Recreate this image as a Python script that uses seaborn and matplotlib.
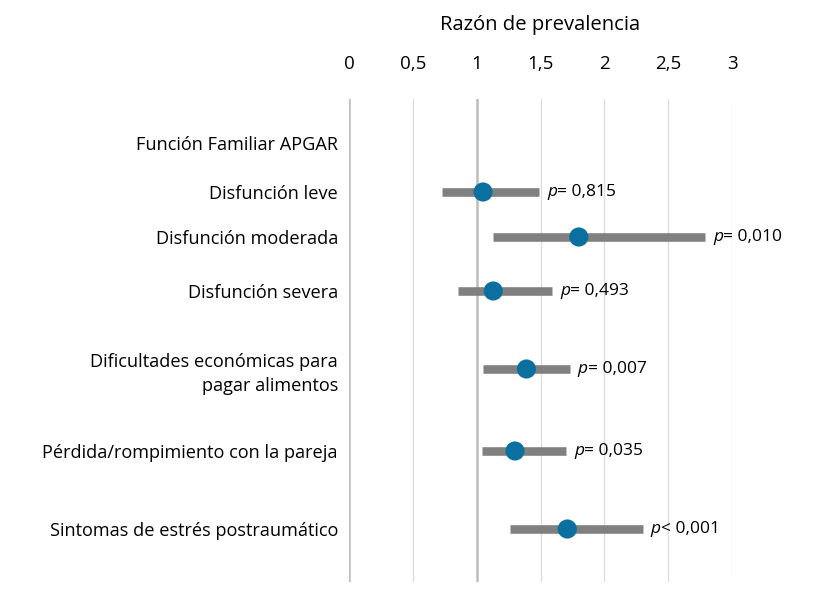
import numpy as np
import pandas as pd
import seaborn as sns
import matplotlib.pyplot as plt

# forest plot data (prevalence ratio with 95% CI)
labels = ["Función Familiar APGAR", "Disfunción leve", "Disfunción moderada",
          "Disfunción severa", "Dificultades económicas para\npagar alimentos",
          "Pérdida/rompimiento con la pareja", "Sintomas de estrés postraumático"]
rp = [np.nan, 1.05, 1.80, 1.13, 1.39, 1.30, 1.71]
ci_low = [np.nan, 0.73, 1.13, 0.85, 1.05, 1.04, 1.26]
ci_high = [np.nan, 1.49, 2.79, 1.59, 1.73, 1.70, 2.30]
p_sign = [None, "=", "=", "=", "=", "=", "<"]
p_text = [None, "0,815", "0,010", "0,493", "0,007", "0,035", "0,001"]
xticks = [0, 0.5, 1, 1.5, 2, 2.5, 3]
xtick_labels = ["0", "0,5", "1", "1,5", "2", "2,5", "3"]

# row slots (layout only, rows are not evenly spaced)
row_pos = [0, 0.98, 1.88, 2.96, 4.52, 6.16, 7.72]

sns.set_theme(style="white")
plt.rcParams['font.family'] = ['Open Sans', 'DejaVu Sans']
plt.rcParams['text.color'] = 'black'
plt.rcParams['xtick.color'] = 'black'
plt.rcParams['ytick.color'] = 'black'
plt.rcParams['axes.labelcolor'] = 'black'

df = pd.DataFrame({"label": labels, "rp": rp, "lo": ci_low, "hi": ci_high, "y": row_pos})

fig = plt.figure(figsize=(8.33, 5.98), dpi=100)
ax = fig.add_axes([349 / 833, 1 - 582 / 598, (732 - 349) / 833, (582 - 99) / 598])

# grid
for xv in xticks:
    if xv in (0, 1):
        ax.axvline(xv, color="#bdbdbd", lw=1.8, zorder=0)
    else:
        ax.axvline(xv, color="#dcdcdc", lw=0.9, zorder=0)

d = df.dropna()
ax.hlines(d["y"], d["lo"], d["hi"], color="#808080", lw=6.2, zorder=2)
sns.scatterplot(data=d, x="rp", y="y", ax=ax, s=190, color="#0b6fa0",
                edgecolor="none", zorder=3, legend=False)

for _, r in d.iterrows():
    i = labels.index(r["label"])
    ax.annotate("p", (r["hi"], r["y"]), xytext=(8, 0), textcoords="offset pixels",
                ha="left", va="center", fontsize=12.5, style="italic")
    ax.annotate(p_sign[i] + " " + p_text[i], (r["hi"], r["y"]), xytext=(18, 0),
                textcoords="offset pixels", ha="left", va="center", fontsize=12.5)

ax.set_xlim(0, 3)
ax.set_ylim(8.78, -0.88)
ax.set_yticks(row_pos)
ax.set_yticklabels(labels, fontsize=13.1, ha="right", multialignment="right",
                   linespacing=1.45)
ax.tick_params(axis="y", length=0, pad=8)

ax.xaxis.set_ticks_position("top")
ax.xaxis.set_label_position("top")
ax.set_xticks(xticks)
ax.set_xticklabels(xtick_labels, fontsize=13.5)
ax.tick_params(axis="x", length=0, pad=19)
ax.set_xlabel("Razón de prevalencia", fontsize=14.6, labelpad=18)
ax.set_ylabel("")
for s in ax.spines.values():
    s.set_visible(False)

fig.savefig("out.png", dpi=100, facecolor="white")
